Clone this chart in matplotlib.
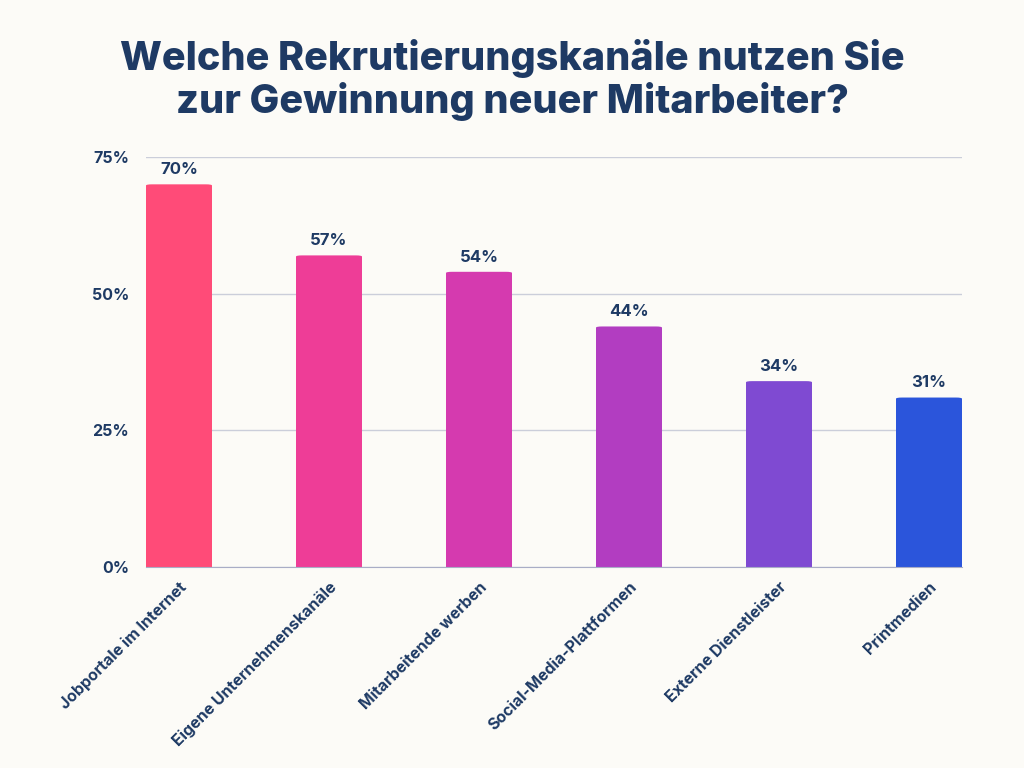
import matplotlib
matplotlib.use("Agg")
import matplotlib.pyplot as plt
from matplotlib.patches import FancyBboxPatch

kanaele = ["Jobportale im Internet", "Eigene Unternehmenskanäle", "Mitarbeitende werben",
           "Social-Media-Plattformen", "Externe Dienstleister", "Printmedien"]
anteile = [70, 57, 54, 44, 34, 31]
y_ticks = [0, 25, 50, 75]
y_labels = ["0%", "25%", "50%", "75%"]

farben = ["#FF4B78", "#EE3D97", "#D53AAF", "#B23DC1", "#7F4AD2", "#2B55DB"]
dunkel = "#1E3A64"
hg = "#FCFBF7"

plt.rcParams["font.family"] = ["Inter", "DejaVu Sans"]

fig = plt.figure(figsize=(10.24, 7.68), dpi=100, facecolor=hg)
ax = fig.add_axes([146/1024, 1-567/768, (962-146)/1024, 410/768])
ax.set_facecolor(hg)

bars = ax.bar(range(len(kanaele)), anteile, width=0.44, color=farben, zorder=3)
# abgerundete Ecken oben
for b, c in zip(bars, farben):
    b.set_visible(False)
    x, y = b.get_x(), b.get_y()
    w, h = b.get_width(), b.get_height()
    p = FancyBboxPatch((x, y), w, h, boxstyle="round,pad=0,rounding_size=0.04",
                       mutation_aspect=5.5, facecolor=c, edgecolor="none", zorder=3)
    ax.add_patch(p)
    ax.add_patch(plt.Rectangle((x, 0), w, min(h, 3), facecolor=c, edgecolor="none", zorder=3))

for i, v in enumerate(anteile):
    ax.text(i, v + 1.3, f"{v}%", ha="center", va="bottom", fontsize=12,
            fontweight="bold", color=dunkel)

ax.set_xlim(-0.22, len(kanaele) - 1 + 0.22)
ax.set_ylim(0, 75)
ax.set_yticks(y_ticks)
ax.set_yticklabels(y_labels, fontsize=11.5, fontweight="bold", color=dunkel)
ax.set_xticks(range(len(kanaele)))
ax.set_xticklabels(kanaele, rotation=45, ha="right", rotation_mode="anchor",
                   fontsize=11.5, fontweight="bold", color=dunkel)
ax.tick_params(axis="both", length=0)
ax.tick_params(axis="y", pad=12)
ax.tick_params(axis="x", pad=9)

ax.grid(axis="y", color="#CBCEDA", linewidth=1, zorder=0)
for s in ["top", "right", "left"]:
    ax.spines[s].set_visible(False)
ax.spines["bottom"].set_color("#A9ADC6")
ax.spines["bottom"].set_zorder(4)

fig.text(0.5, 1-80/768, "Welche Rekrutierungskanäle nutzen Sie\nzur Gewinnung neuer Mitarbeiter?",
         ha="center", va="center", fontsize=28.5, fontweight="heavy", color=dunkel,
         linespacing=1.15)

fig.savefig("out.png", dpi=100, facecolor=hg)
